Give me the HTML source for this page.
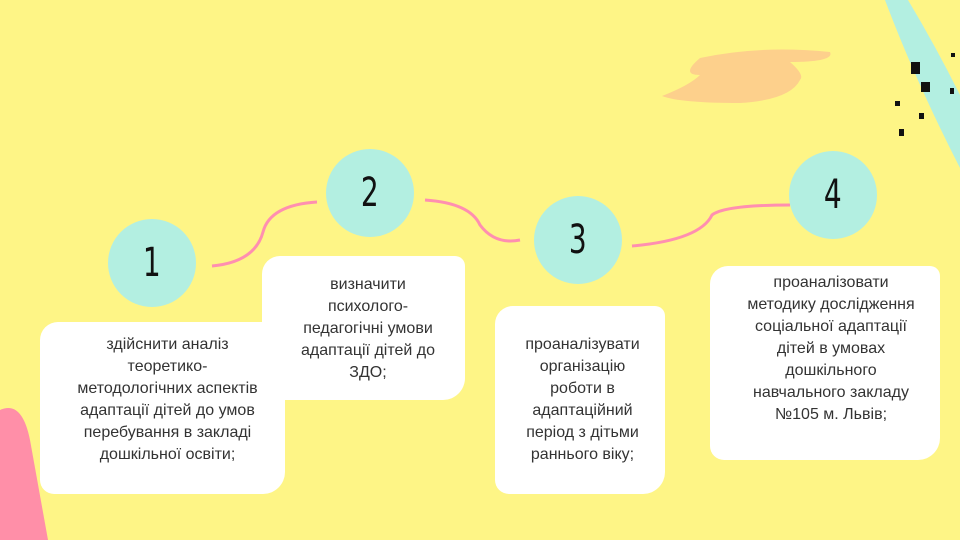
<!DOCTYPE html>
<html><head><meta charset="utf-8"><style>
body{margin:0;width:960px;height:540px;overflow:hidden;background:#fef586;position:relative;font-family:"Liberation Sans","DejaVu Sans",sans-serif}
.c{position:absolute;width:88px;height:88px;border-radius:50%;background:#b3efe1;display:flex;align-items:center;justify-content:center}
.c span{display:inline-block;font-family:"DejaVu Sans","Liberation Sans",sans-serif;font-size:40px;color:#111;transform:scaleX(0.7)}
.b{position:absolute;background:#fff;border-radius:18px 10px 22px 14px}
.t{position:absolute;text-align:center;color:#333;font-size:16px;line-height:22px;font-weight:300}
</style></head><body>
<svg width="960" height="540" style="position:absolute;left:0;top:0">
<path d="M885 0 L908 0 Q935 45 960 95 L960 168 Q915 80 885 0Z" fill="#b3efe1"/>
<path d="M0 410 Q22 400 30 440 L48 540 L0 540Z" fill="#ff8fa8"/>
<path d="M700 58 Q760 45 830 52 Q835 62 790 62 Q805 75 800 80 Q790 100 740 103 Q680 103 662 96 Q690 85 700 75 Q680 75 700 58Z" fill="#fdd08c"/>
<g fill="#111"><rect x="895" y="101" width="5" height="5"/><rect x="919" y="113" width="5" height="6"/><rect x="899" y="129" width="5" height="7"/><rect x="950" y="88" width="4" height="6"/><rect x="951" y="53" width="4" height="4"/><rect x="911" y="62" width="9" height="12"/><rect x="921" y="82" width="9" height="10"/></g>
<g fill="none" stroke="#ff8fb0" stroke-width="3">
<path d="M212 266 Q255 262 263 232 Q270 205 317 202"/>
<path d="M425 200 Q470 203 480 225 Q495 245 520 240"/>
<path d="M632 246 Q700 240 712 215 Q725 205 790 205"/>
</g>
</svg>
<div class="b" style="left:40px;top:322px;width:245px;height:172px"></div>
<div class="b" style="left:262px;top:256px;width:203px;height:144px"></div>
<div class="b" style="left:495px;top:306px;width:170px;height:188px"></div>
<div class="b" style="left:710px;top:266px;width:230px;height:194px"></div>
<div class="c" style="left:108px;top:219px"><span>1</span></div>
<div class="c" style="left:326px;top:149px"><span>2</span></div>
<div class="c" style="left:534px;top:196px"><span>3</span></div>
<div class="c" style="left:789px;top:151px"><span>4</span></div>
<div class="t" style="left:40px;top:334px;width:255px">здійснити аналіз<br>теоретико-<br>методологічних аспектів<br>адаптації дітей до умов<br>перебування в закладі<br>дошкільної освіти;</div>
<div class="t" style="left:262px;top:274px;width:212px">визначити<br>психолого-<br>педагогічні умови<br>адаптації дітей до<br>ЗДО;</div>
<div class="t" style="left:495px;top:334px;width:175px">проаналізувати<br>організацію<br>роботи в<br>адаптаційний<br>період з дітьми<br>раннього віку;</div>
<div class="t" style="left:712px;top:272px;width:238px">проаналізовати<br>методику дослідження<br>соціальної адаптації<br>дітей в умовах<br>дошкільного<br>навчального закладу<br>№105 м. Львів;</div>
</body></html>
